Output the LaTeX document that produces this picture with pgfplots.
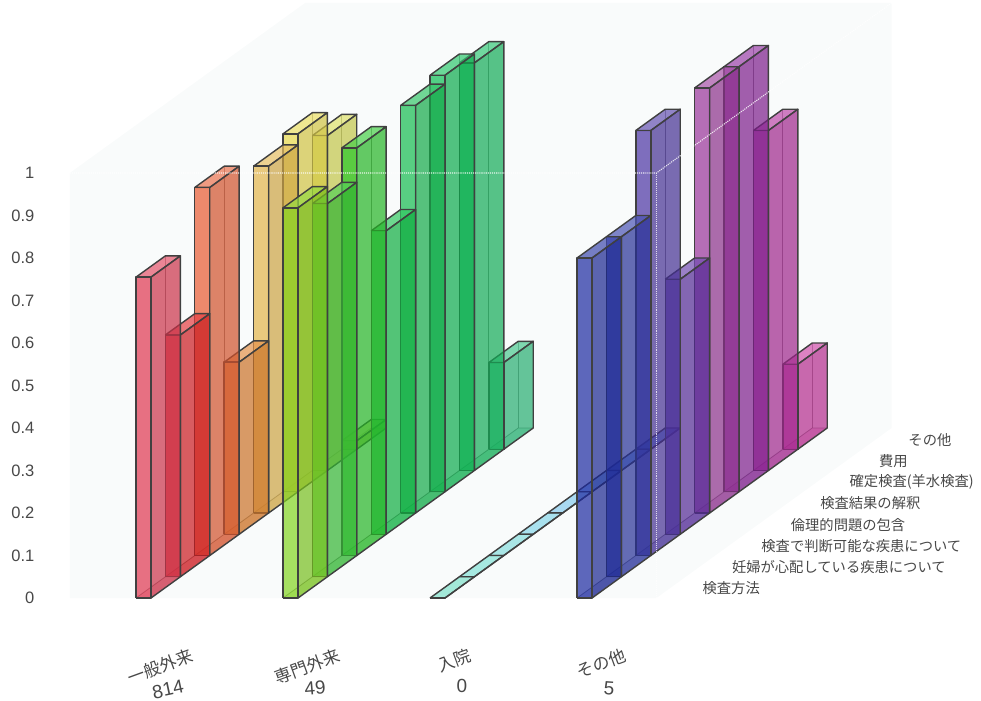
\documentclass[border=0pt]{standalone}
\usepackage{pgfplots}
\pgfplotsset{compat=1.18}
\usepackage{fontspec}
\setmainfont{Liberation Sans}
\newfontfamily\cjk{Noto Sans CJK JP}
\definecolor{edge}{HTML}{404040}
\definecolor{labelgray}{HTML}{484848}
\definecolor{haze}{HTML}{F9FBFB}

% One translucent box: #1 category, #2 row, #3 height, #4 colour (HTML)
\newcommand{\boxbar}[4]{%
  \definecolor{cc}{HTML}{#4}%
  \colorlet{cc#1x#2}{cc}%
  \pgfmathsetmacro\xa{#1}%
  \pgfmathsetmacro\xb{#1+0.102}%
  \pgfmathsetmacro\ya{#2}%
  \pgfmathsetmacro\yb{#2+1}%
  \addplot3[forget plot,no marks,draw=none,fill=cc#1x#2,fill opacity=0.22]
    coordinates {(\xa,\ya,0)(\xb,\ya,0)(\xb,\yb,0)(\xa,\yb,0)(\xa,\ya,0)};
  \addplot3[forget plot,no marks,draw=\edgecol,draw opacity=0.6,line width=\edgehid]
    coordinates {(\xa,\ya,0)(\xa,\yb,0)(\xb,\yb,0)};
  \addplot3[forget plot,no marks,draw=\edgecol,draw opacity=0.6,line width=\edgehid]
    coordinates {(\xa,\yb,0)(\xa,\yb,#3)};
  \addplot3[forget plot,no marks,draw=\edgecol,line width=\edgew,line join=round,
      fill=cc#1x#2!85!white,fill opacity=0.7]
    coordinates {(\xa,\ya,#3)(\xb,\ya,#3)(\xb,\yb,#3)(\xa,\yb,#3)(\xa,\ya,#3)};
  \addplot3[forget plot,no marks,draw=\edgecol,line width=\edgew,line join=round,
      fill=cc#1x#2!90!black,fill opacity=0.7]
    coordinates {(\xb,\ya,0)(\xb,\yb,0)(\xb,\yb,#3)(\xb,\ya,#3)(\xb,\ya,0)};
  \addplot3[forget plot,no marks,draw=\edgecol,line width=\edgew,line join=round,
      fill=cc#1x#2,fill opacity=0.7]
    coordinates {(\xa,\ya,0)(\xb,\ya,0)(\xb,\ya,#3)(\xa,\ya,#3)(\xa,\ya,0)};
}
\def\edgecol{edge}
\def\edgew{1.4pt}
\def\edgehid{0.8pt}
\newcommand{\namefont}{\fontsize{17}{19}\selectfont\cjk}
\newcommand{\countfont}{\fontsize{19}{21}\selectfont}

\begin{document}
\begin{tikzpicture}
\begin{axis}[
  x={(147pt,0pt)}, y={(29.4pt,21.25pt)}, z={(0pt,425pt)},
  xmin=-0.45, xmax=3.54, ymin=0, ymax=8, zmin=0, zmax=1,
  clip=false,
  axis line style={draw=none},
  major tick length=0pt,
  xtick={0.163,1.163,2.163,3.163},
  xticklabels={
    {\rotatebox{20}{\namefont 一般外来}\\[-7pt]\hspace*{16pt}\rotatebox{12}{\countfont 814}},
    {\rotatebox{20}{\namefont 専門外来}\\[-6pt]\hspace*{16pt}\rotatebox{5}{\countfont 49}},
    {\rotatebox{20}{\namefont 入院}\\[4pt]\hspace*{16pt}{\countfont 0}},
    {\rotatebox{20}{\namefont その他}\\[1pt]\hspace*{16pt}\rotatebox{-4}{\countfont 5}}},
  x tick label style={align=center,anchor=north,yshift=-46pt,text=labelgray},
  ytick=\empty,
  ztick={0,0.1,0.2,0.3,0.4,0.5,0.6,0.7,0.8,0.9,1},
  zticklabels={0,0.1,0.2,0.3,0.4,0.5,0.6,0.7,0.8,0.9,1},
  zticklabel pos=left,
  z tick label style={anchor=east,xshift=-32pt,font=\fontsize{16.5}{18}\selectfont,text=labelgray},
]
% Room around the box
\coordinate (TL) at (axis cs:-0.925,0,1.407);
\coordinate (BR) at (axis cs:5.748,0,-0.242);

% Faint walls and floor
\addplot3[forget plot,no marks,draw=none,fill=haze]
  coordinates {(-0.45,0,0)(3.54,0,0)(3.54,8,0)(3.54,8,1)(-0.45,8,1)(-0.45,0,1)(-0.45,0,0)};

% 一般外来 (n = 814)
\boxbar{0}{7}{0.02}{B8D84C}
\boxbar{0}{6}{0.788}{D8DC50}
\boxbar{0}{5}{0.842}{E8D94A}
\boxbar{0}{4}{0.816}{E3B54A}
\boxbar{0}{3}{0.405}{E07F2B}
\boxbar{0}{2}{0.866}{E85A30}
\boxbar{0}{1}{0.569}{E01C22}
\boxbar{0}{0}{0.755}{E03650}
% 専門外来 (n = 49)
\boxbar{1}{7}{0.204}{2AC07C}
\boxbar{1}{6}{0.959}{14BE60}
\boxbar{1}{5}{0.98}{0CBE54}
\boxbar{1}{4}{0.959}{14BC50}
\boxbar{1}{3}{0.714}{0EC046}
\boxbar{1}{2}{0.959}{28C828}
\boxbar{1}{1}{0.878}{38C838}
\boxbar{1}{0}{0.918}{84D420}
% 入院 (n = 0)
\def\edgecol{edge!55!teal!70!white}
\def\edgew{0.8pt}
\def\edgehid{0.4pt}
\boxbar{2}{7}{0}{4A7CDC}
\boxbar{2}{6}{0}{6098E8}
\boxbar{2}{5}{0}{70B0EC}
\boxbar{2}{4}{0}{80C8EC}
\boxbar{2}{3}{0}{80D4E8}
\boxbar{2}{2}{0}{80DCDC}
\boxbar{2}{1}{0}{7CE0D4}
\boxbar{2}{0}{0}{78DEC7}
% その他 (n = 5)
\def\edgecol{edge}
\def\edgew{1.4pt}
\def\edgehid{0.8pt}
\boxbar{3}{7}{0.2}{C8309C}
\boxbar{3}{6}{0.8}{B0289A}
\boxbar{3}{5}{1}{8A1F9A}
\boxbar{3}{4}{1}{993399}
\boxbar{3}{3}{0.6}{5A2CA5}
\boxbar{3}{2}{1}{4A33A3}
\boxbar{3}{1}{0.8}{2A35A8}
\boxbar{3}{0}{0.8}{1C29A0}

% Front edges of the box, in white over the bars
\addplot3[forget plot,no marks,white,densely dotted,line width=1.1pt,opacity=0.85]
  coordinates {(-0.45,0,1)(3.54,0,1)(3.54,8,1)};
\addplot3[forget plot,no marks,white,densely dotted,line width=1.1pt,opacity=0.75]
  coordinates {(3.54,0,1)(3.54,0,0)};

% Row names along the floor's right edge
\tikzset{rowname/.style={anchor=west,xshift=28pt,yshift=-1pt,font=\fontsize{14.3}{16}\selectfont\cjk,text=labelgray}}
\node[rowname] at (axis cs:3.54,0.5,0) {検査方法};
\node[rowname] at (axis cs:3.54,1.5,0) {妊婦が心配している疾患について};
\node[rowname] at (axis cs:3.54,2.5,0) {検査で判断可能な疾患について};
\node[rowname] at (axis cs:3.54,3.5,0) {倫理的問題の包含};
\node[rowname] at (axis cs:3.54,4.5,0) {検査結果の解釈};
\node[rowname] at (axis cs:3.54,5.5,0) {確定検査(羊水検査)};
\node[rowname] at (axis cs:3.54,6.5,0) {費用};
\node[rowname] at (axis cs:3.54,7.5,0) {その他};
\end{axis}
\pgfresetboundingbox
\useasboundingbox (TL) rectangle (BR);
\end{tikzpicture}
\end{document}
